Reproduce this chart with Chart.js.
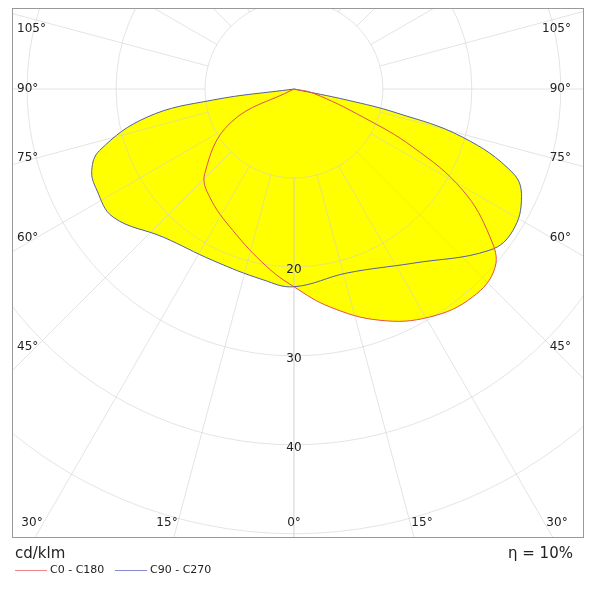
<!DOCTYPE html>
<html><head><meta charset="utf-8">
<script src="https://cdn.jsdelivr.net/npm/chart.js@4"></script>
<style>
body{margin:0;background:#fff;font-family:"DejaVu Sans",sans-serif;}
#wrap{position:relative;width:600px;height:600px;}
.t{position:absolute;color:#222;white-space:nowrap;}
</style></head><body>
<div id="wrap"><canvas id="c" width="600" height="600"></canvas>
<div class="t" style="left:15px;top:544px;font-size:15px;">cd/klm</div>
<div class="t" style="left:508px;top:544px;font-size:15px;">η = 10%</div>
<div class="t" style="left:15px;top:563px;font-size:11px;"><span style="display:inline-block;width:32px;border-top:1px solid #e88;vertical-align:middle;margin-right:3px"></span>C0 - C180</div>
<div class="t" style="left:115px;top:563px;font-size:11px;"><span style="display:inline-block;width:32px;border-top:1px solid #88c;vertical-align:middle;margin-right:3px"></span>C90 - C270</div>
</div>
<script>
// angles measured from nadir, negative = left half-plane
const redAngles = [-90,-62,-46.6,-37.9,-23.4,-8.6,0,9.4,20.4,30.8,40.7,48.5,53,59.1,64,67.9,78,90];
const redValues = [0,8.1,13.8,15.4,17.3,20.2,22.2,24.8,27.7,29.8,30.8,30.2,27.6,22.1,14.9,8.4,2.2,0];
const blueAngles = [-90,-82.3,-79.2,-72.5,-68.1,-62.9,-54.7,-41.5,-25.3,-9.2,0,16.1,34.4,50.6,57.2,64.7,69,74.1,76.9,78.3,90];
const blueValues = [0,9.2,16.8,22.9,24.5,24.9,24.9,22.2,21.3,21.7,22.2,21.5,23.7,28.5,29.3,28.3,26.4,19.7,11.9,6.1,0];
const ringValues = [10,20,30,40,50,60,70];
const ringLabels = ['20','30','40'];
const angleTicks = [0,15,30,45,60,75,90,105,120,135,150,165,180];

function toXY(a,v){return a.map((d,i)=>({x:v[i]*Math.sin(d*Math.PI/180),y:-v[i]*Math.cos(d*Math.PI/180)}));}
const redPts = toXY(redAngles,redValues), bluePts = toXY(blueAngles,blueValues);

const grid = {id:'grid',
 beforeDatasetsDraw(ch){
  const {ctx,chartArea:a,scales:{x,y}}=ch;
  const cx=x.getPixelForValue(0), cy=y.getPixelForValue(0);
  const k=x.getPixelForValue(10)-cx;
  ctx.save();ctx.beginPath();ctx.rect(a.left,a.top,a.right-a.left,a.bottom-a.top);ctx.clip();
  ctx.fillStyle='#ffff00';
  [redPts,bluePts].forEach((pts,j)=>{
    const meta=ch.getDatasetMeta(j);
    ctx.beginPath();
    meta.data.forEach((p,i)=>{ if(i===0)ctx.moveTo(p.x,p.y); else {
      const q=meta.data[i-1];
      if(q.cp2x!==undefined&&p.cp1x!==undefined) ctx.bezierCurveTo(q.cp2x,q.cp2y,p.cp1x,p.cp1y,p.x,p.y); else ctx.lineTo(p.x,p.y);} });
    ctx.closePath();ctx.fill();
  });
  ctx.strokeStyle='rgba(205,205,205,0.55)';ctx.lineWidth=1;
  ringValues.forEach(r=>{ctx.beginPath();ctx.arc(cx,cy,r*k/10,0,Math.PI*2);ctx.stroke();});
  angleTicks.forEach(t=>{[1,-1].forEach(s=>{const r=t*Math.PI/180;ctx.beginPath();ctx.moveTo(cx+s*Math.sin(r)*k,cy+Math.cos(r)*k);ctx.lineTo(cx+s*Math.sin(r)*800,cy+Math.cos(r)*800);ctx.stroke();});});
  ctx.restore();
  ctx.strokeStyle='#999';ctx.strokeRect(a.left+0.5,a.top+0.5,a.right-a.left,a.bottom-a.top);
 },
 afterDatasetsDraw(ch){
  const {ctx,chartArea:a,scales:{x,y}}=ch;
  const cx=x.getPixelForValue(0);
  ctx.save();ctx.fillStyle='#222';ctx.font='12px "DejaVu Sans"';ctx.textAlign='center';ctx.textBaseline='middle';
  ringLabels.forEach(l=>{ctx.fillText(l,cx,y.getPixelForValue(-Number(l))+3);});
  const side={105:29,90:89,75:158,60:238,45:347};
  Object.keys(side).forEach(d=>{ctx.textAlign='left';ctx.fillText(d+'°',a.left+5,side[d]);ctx.textAlign='right';ctx.fillText(d+'°',a.right-12,side[d]);});
  ctx.textAlign='center';
  [[30,32],[15,167],[0,294],[15,422],[30,557]].forEach(([d,px])=>ctx.fillText(d+'°',px,523));
  ctx.restore();
 }};

new Chart(document.getElementById('c'),{type:'scatter',
 data:{datasets:[
  {data:redPts,showLine:true,borderColor:'#e05050',borderWidth:1,pointRadius:0,tension:0.4},
  {data:bluePts,showLine:true,borderColor:'#5060a0',borderWidth:1,pointRadius:0,tension:0.4}]},
 options:{responsive:false,animation:false,
  layout:{padding:{left:12,right:17,top:8,bottom:63}},
  plugins:{legend:{display:false},tooltip:{enabled:false}},
  scales:{x:{display:false,min:-31.7,max:32.5},y:{display:false,min:-50.3,max:9.1}}},
 plugins:[grid]});
</script></body></html>
